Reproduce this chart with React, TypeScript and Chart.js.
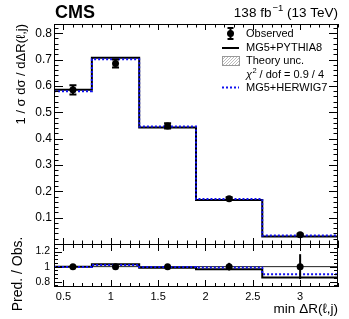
import React, { useEffect, useRef } from 'react';
import { Chart, registerables } from 'chart.js';
Chart.register(...registerables);

const FONT = '"Liberation Sans", Arial, Helvetica, sans-serif';

// Bin edges / centres of min ΔR(ℓ,j)
const BIN_EDGES = [0.4, 0.8, 1.3, 1.9, 2.6, 3.4];
const BIN_CENTERS = [0.6, 1.05, 1.6, 2.25, 3.0];
// Normalised cross section
const OBS = [0.585, 0.685, 0.448, 0.172, 0.035];
const OBS_ERR = [0.018, 0.015, 0.01, 0.005, 0.004];
const PYTHIA = [0.585, 0.707, 0.442, 0.167, 0.028];
const HERWIG = [0.58, 0.701, 0.446, 0.171, 0.032];
// Ratio panel (Pred. / Obs.)
const RATIO_OBS = [1, 1, 1, 1, 1];
const RATIO_OBS_ERR = [0.03, 0.025, 0.02, 0.05, 0.165];
const RATIO_PYTHIA = [1.0, 1.03, 0.985, 0.965, 0.855];
const RATIO_HERWIG = [0.995, 1.02, 0.995, 0.99, 0.9];
// Tick labels
const X_TICKS = [0.5, 1, 1.5, 2, 2.5, 3];
const Y_TICKS = [0.1, 0.2, 0.3, 0.4, 0.5, 0.6, 0.7, 0.8];
const YR_TICKS = [0.8, 1, 1.2];
// Axis ranges
const X_RANGE = [0.4, 3.4];
const Y_RANGE = [0, 0.835];
const YR_RANGE = [0.73, 1.3];

const stepData = (vals: number[]) => [
  ...vals.map((v, i) => ({ x: BIN_EDGES[i], y: v })),
  { x: BIN_EDGES[vals.length], y: vals[vals.length - 1] },
];
const pts = (vals: number[]) => vals.map((v, i) => ({ x: BIN_CENTERS[i], y: v }));

const BLUE = '#1010f0';

const cmsPlugin = {
  id: 'cmsDecor',
  beforeDatasetDraw(chart: any, args: any) {
    if (args.index !== 1) return;
    const ctx = chart.ctx;
    const x = chart.scales.x;
    const y = chart.scales.y;
    const yr = chart.scales.yr;
    ctx.save();
    ctx.strokeStyle = '#000';
    ctx.lineWidth = 2;
    OBS.forEach((v, i) => {
      const px = x.getPixelForValue(BIN_CENTERS[i]);
      const y1 = y.getPixelForValue(v - OBS_ERR[i]);
      const y2 = y.getPixelForValue(v + OBS_ERR[i]);
      ctx.beginPath();
      ctx.moveTo(px, y1);
      ctx.lineTo(px, y2);
      ctx.moveTo(px - 3.5, y1);
      ctx.lineTo(px + 3.5, y1);
      ctx.moveTo(px - 3.5, y2);
      ctx.lineTo(px + 3.5, y2);
      ctx.stroke();
    });
    RATIO_OBS.forEach((v, i) => {
      const px = x.getPixelForValue(BIN_CENTERS[i]);
      const y1 = yr.getPixelForValue(v - RATIO_OBS_ERR[i]);
      const y2 = yr.getPixelForValue(v + RATIO_OBS_ERR[i]);
      ctx.beginPath();
      ctx.moveTo(px, y1);
      ctx.lineTo(px, y2);
      ctx.stroke();
    });
    ctx.restore();
  },
  afterDraw(chart: any) {
    const ctx = chart.ctx;
    const x = chart.scales.x;
    const y = chart.scales.y;
    const yr = chart.scales.yr;
    const L = x.left, R = x.right;
    ctx.save();
    // frames
    ctx.strokeStyle = '#000';
    ctx.lineWidth = 1;
    ctx.strokeRect(Math.round(L) + 0.5, Math.round(y.top) + 0.5, Math.round(R - L) - 1, Math.round(y.bottom - y.top));
    ctx.strokeRect(Math.round(L) + 0.5, Math.round(yr.top) + 0.5, Math.round(R - L) - 1, Math.round(yr.bottom - yr.top) - 1);

    const line = (x1: number, y1: number, x2: number, y2: number) => {
      ctx.beginPath();
      ctx.moveTo(x1, y1);
      ctx.lineTo(x2, y2);
      ctx.stroke();
    };
    const near = (a: number, b: number) => Math.abs(a - b) < 1e-6;

    // x ticks
    for (let k = 4; k <= 34; k++) {
      const v = k / 10;
      const major = X_TICKS.some((t) => near(t, v));
      const px = Math.round(x.getPixelForValue(v)) + 0.5;
      const lm = major ? 6 : 3.5;
      const lr = major ? 7 : 4;
      line(px, y.top, px, y.top + lm);
      line(px, y.bottom, px, y.bottom - lm);
      line(px, yr.top, px, yr.top + lr);
      line(px, yr.bottom, px, yr.bottom - lr);
    }
    // main y ticks
    for (let k = 1; k <= 41; k++) {
      const v = k / 50;
      if (v > Y_RANGE[1]) break;
      const major = Y_TICKS.some((t) => near(t, v));
      const py = Math.round(y.getPixelForValue(v)) + 0.5;
      const l = major ? 9 : 4.5;
      line(L, py, L + l, py);
      line(R, py, R - l, py);
    }
    // ratio y ticks
    for (let k = 15; k <= 26; k++) {
      const v = k / 20;
      if (v < YR_RANGE[0] || v > YR_RANGE[1]) continue;
      const major = YR_TICKS.some((t) => near(t, v));
      const py = Math.round(yr.getPixelForValue(v)) + 0.5;
      const l = major ? 8 : 4;
      line(L, py, L + l, py);
      line(R, py, R - l, py);
    }

    ctx.fillStyle = '#000';
    ctx.textBaseline = 'alphabetic';
    // CMS label
    ctx.font = `bold 18px ${FONT}`;
    ctx.textAlign = 'left';
    ctx.fillText('CMS', L + 1, 18);
    // lumi label
    ctx.font = `13.5px ${FONT}`;
    const p1 = '138 fb';
    const p3 = ' (13 TeV)';
    const w1 = ctx.measureText(p1).width;
    const w3 = ctx.measureText(p3).width;
    ctx.font = `9.5px ${FONT}`;
    const sup = '\u22121';
    const w2 = ctx.measureText(sup).width;
    let cx = R - (w1 + w2 + w3 + 1);
    ctx.font = `13.5px ${FONT}`;
    ctx.fillText(p1, cx, 17);
    cx += w1 + 1;
    ctx.font = `9.5px ${FONT}`;
    ctx.fillText(sup, cx, 11);
    cx += w2;
    ctx.font = `13.5px ${FONT}`;
    ctx.fillText(p3, cx, 17);

    // axis titles
    ctx.font = `13px ${FONT}`;
    ctx.save();
    ctx.translate(21, y.top);
    ctx.rotate(-Math.PI / 2);
    ctx.textAlign = 'right';
    ctx.textBaseline = 'middle';
    ctx.fillText('1 / \u03c3 d\u03c3 / d\u0394R(\u2113,j)', 0, 0);
    ctx.restore();

    ctx.save();
    ctx.font = `14px ${FONT}`;
    ctx.translate(18, 274);
    ctx.rotate(-Math.PI / 2);
    ctx.textAlign = 'center';
    ctx.textBaseline = 'middle';
    ctx.fillText('Pred. / Obs.', 0, 0);
    ctx.restore();

    ctx.font = `13.5px ${FONT}`;
    ctx.textAlign = 'right';
    ctx.fillText('min \u0394R(\u2113,j)', R, 313);

    // legend
    const sx1 = 222, sx2 = 239, sxc = 230.5, tx = 246;
    ctx.font = `11px ${FONT}`;
    ctx.textAlign = 'left';
    ctx.textBaseline = 'middle';
    // Observed
    ctx.lineWidth = 2;
    ctx.strokeStyle = '#000';
    line(sxc, 28, sxc, 39);
    line(sxc - 3, 28, sxc + 3, 28);
    line(sxc - 3, 39, sxc + 3, 39);
    ctx.beginPath();
    ctx.arc(sxc, 33.5, 3.5, 0, Math.PI * 2);
    ctx.fill();
    ctx.fillText('Observed', tx, 33.5);
    // Pythia
    line(sx1, 48, sx2, 48);
    ctx.fillText('MG5+PYTHIA8', tx, 48);
    // Theory unc.
    ctx.save();
    ctx.beginPath();
    ctx.rect(sx1, 56.5, sx2 - sx1, 9);
    ctx.clip();
    ctx.strokeStyle = '#bbbbbb';
    ctx.lineWidth = 1;
    for (let k = -12; k < 24; k += 3) line(sx1 + k, 66, sx1 + k + 10, 56);
    ctx.restore();
    ctx.strokeStyle = '#999';
    ctx.lineWidth = 1;
    ctx.strokeRect(sx1 + 0.5, 56.5, sx2 - sx1, 9);
    ctx.fillText('Theory unc.', tx, 61);
    // chi2
    ctx.font = `italic 11px ${FONT}`;
    ctx.fillText('\u03c7', tx, 75);
    const wc = ctx.measureText('\u03c7').width;
    ctx.font = `7.5px ${FONT}`;
    ctx.fillText('2', tx + wc + 0.5, 71);
    ctx.font = `11px ${FONT}`;
    ctx.fillText(' / dof = 0.9 / 4', tx + wc + 4.5, 75);
    // Herwig
    ctx.strokeStyle = BLUE;
    ctx.lineWidth = 2;
    ctx.setLineDash([2, 2]);
    line(sx1, 87.5, sx2, 87.5);
    ctx.setLineDash([]);
    ctx.fillText('MG5+HERWIG7', tx, 88);
    ctx.restore();
  },
};

export default function App() {
  const ref = useRef<HTMLCanvasElement | null>(null);
  useEffect(() => {
    if (!ref.current) return;
    const lineDs = (label: string, data: any, axis: string, color: string, dash: number[] = []) => ({
      label,
      data,
      yAxisID: axis,
      borderColor: color,
      borderWidth: 2,
      borderDash: dash,
      pointRadius: 0,
      stepped: 'before' as const,
      fill: false,
    });
    const chart = new Chart(ref.current, {
      type: 'line',
      data: {
        datasets: [
          {
            label: 'Observed',
            data: pts(OBS),
            yAxisID: 'y',
            showLine: false,
            pointRadius: 3.5,
            pointBackgroundColor: '#000',
            pointBorderColor: '#000',
            pointBorderWidth: 0,
          } as any,
          {
            label: 'Observed ratio',
            data: pts(RATIO_OBS),
            yAxisID: 'yr',
            showLine: false,
            pointRadius: 3.5,
            pointBackgroundColor: '#000',
            pointBorderColor: '#000',
            pointBorderWidth: 0,
          } as any,
          lineDs('MG5+HERWIG7', stepData(HERWIG), 'y', BLUE, [2, 2]),
          lineDs('MG5+PYTHIA8', stepData(PYTHIA), 'y', '#000'),
          lineDs('HERWIG ratio', stepData(RATIO_HERWIG), 'yr', BLUE, [2, 2]),
          lineDs('PYTHIA ratio', stepData(RATIO_PYTHIA), 'yr', '#000'),
          {
            label: 'unity',
            data: [
              { x: X_RANGE[0], y: 1 },
              { x: X_RANGE[1], y: 1 },
            ],
            yAxisID: 'yr',
            borderColor: '#222',
            borderWidth: 1,
            pointRadius: 0,
          } as any,
        ],
      },
      options: {
        animation: false,
        responsive: false,
        devicePixelRatio: 1,
        layout: { padding: { top: 24, right: 11, left: 0, bottom: 0 } },
        plugins: { legend: { display: false }, tooltip: { enabled: false } },
        scales: {
          x: {
            type: 'linear',
            min: X_RANGE[0],
            max: X_RANGE[1],
            position: 'bottom',
            grid: { display: false, drawTicks: false },
            border: { display: false },
            afterBuildTicks: (s: any) => {
              s.ticks = X_TICKS.map((v) => ({ value: v }));
            },
            afterFit: (s: any) => {
              s.height = 32;
            },
            ticks: {
              autoSkip: false,
              maxRotation: 0,
              padding: 3,
              color: '#000',
              font: { family: FONT, size: 11 },
              callback: (v: any) => String(v),
            },
          },
          y: {
            type: 'linear',
            min: Y_RANGE[0],
            max: Y_RANGE[1],
            position: 'left',
            stack: 'panels',
            stackWeight: 220,
            weight: 2,
            grid: { display: false, drawTicks: false },
            border: { display: false },
            afterBuildTicks: (s: any) => {
              s.ticks = Y_TICKS.map((v) => ({ value: v }));
            },
            afterFit: (s: any) => {
              s.width = 54;
            },
            ticks: {
              autoSkip: false,
              padding: 2,
              color: '#000',
              font: { family: FONT, size: 12 },
              callback: (v: any) => String(v),
            },
          },
          yr: {
            type: 'linear',
            min: YR_RANGE[0],
            max: YR_RANGE[1],
            position: 'left',
            stack: 'panels',
            stackWeight: 43,
            weight: 1,
            grid: { display: false, drawTicks: false },
            border: { display: false },
            afterBuildTicks: (s: any) => {
              s.ticks = YR_TICKS.map((v) => ({ value: v }));
            },
            afterFit: (s: any) => {
              s.width = 54;
            },
            ticks: {
              autoSkip: false,
              padding: 4,
              color: '#000',
              font: { family: FONT, size: 10.5 },
              callback: (v: any) => String(v),
            },
          },
        } as any,
      },
      plugins: [cmsPlugin],
    });
    return () => chart.destroy();
  }, []);
  return (
    <div style={{ position: 'absolute', left: 0, top: 0, width: 349, height: 319, background: '#fff' }}>
      <canvas ref={ref} width={349} height={319} style={{ display: 'block' }} />
    </div>
  );
}
